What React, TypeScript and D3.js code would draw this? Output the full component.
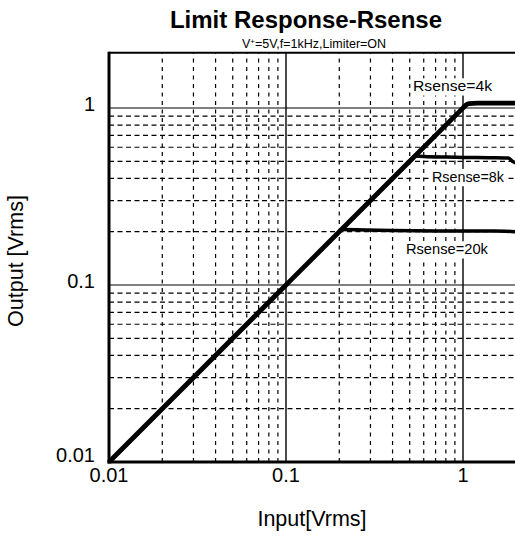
import React from 'react';
import * as d3 from 'd3';

const W = 515;
const H = 538;

// Axis domains (log-log)
const xDomain: [number, number] = [0.01, 2];
const yDomain: [number, number] = [0.01, 2.05];

const xMajor = [0.01, 0.1, 1];
const yMajor = [0.01, 0.1, 1];
const xTickLabels = ['0.01', '0.1', '1'];
const yTickLabels = ['0.01', '0.1', '1'];
const minorMultipliers = [2, 3, 4, 5, 6, 7, 8, 9];

// Series: Rsense=4k (main diagonal + limit at ~1.06)
const r4kX = [0.01, 0.1, 0.5, 0.96, 1.0, 1.04, 1.08, 1.2, 1.6, 2.0];
const r4kY = [0.01, 0.1, 0.5, 0.96, 1.0, 1.04, 1.06, 1.065, 1.065, 1.065];
// Rsense=8k
const r8kX = [0.535, 0.6, 0.8, 1.0, 1.4, 1.8, 1.9, 2.0];
const r8kY = [0.535, 0.532, 0.528, 0.526, 0.524, 0.522, 0.5, 0.488];
// Rsense=20k
const r20kX = [0.205, 0.25, 0.4, 0.7, 1.0, 1.5, 2.0];
const r20kY = [0.206, 0.205, 0.203, 0.202, 0.202, 0.202, 0.2];

const labelTexts = ['Rsense=4k', 'Rsense=8k', 'Rsense=20k'];
const labelX = [0.522, 0.668, 0.476];
const labelY = [1.247, 0.3834, 0.1497];

const FONT = '"Liberation Sans", Arial, sans-serif';

export default function App() {
  const left = 109;
  const bottom = 462;
  const decade = 177;
  const x = d3
    .scaleLog()
    .domain(xDomain)
    .range([left, left + decade * Math.log10(xDomain[1] / xDomain[0])]);
  const y = d3
    .scaleLog()
    .domain(yDomain)
    .range([bottom, bottom - decade * Math.log10(yDomain[1] / yDomain[0])]);

  const [x0, x1] = x.range();
  const [y0, y1] = y.range();

  const xMinor: number[] = [];
  xMajor.forEach((d) =>
    minorMultipliers.forEach((m) => {
      const v = d * m;
      if (v < xDomain[1] - 1e-9) xMinor.push(v);
    })
  );
  const yMinor: number[] = [];
  yMajor.forEach((d) =>
    minorMultipliers.forEach((m) => {
      const v = d * m;
      if (v < yDomain[1] - 0.06) yMinor.push(v);
    })
  );

  const line = d3
    .line<[number, number]>()
    .x((d) => x(d[0]))
    .y((d) => y(d[1]))
    .curve(d3.curveMonotoneX);

  const s4k = r4kX.map((v, i) => [v, r4kY[i]] as [number, number]);
  const s8k = r8kX.map((v, i) => [v, r8kY[i]] as [number, number]);
  const s20k = r20kX.map((v, i) => [v, r20kY[i]] as [number, number]);

  const labelFont = 15;
  const labelWidths = [79, 72, 82];

  return (
    <div style={{ position: 'fixed', left: 0, top: 0, width: W, height: H, background: '#fff' }}>
      <svg width={W} height={H} style={{ display: 'block' }}>
        <rect x={0} y={0} width={W} height={H} fill="#fff" />
        {/* minor grid */}
        {xMinor.map((v) => (
          <line
            key={'xm' + v}
            x1={x(v)}
            x2={x(v)}
            y1={y0}
            y2={y1}
            stroke="#000"
            strokeWidth={1.2}
            strokeDasharray="4,4.5"
          />
        ))}
        {yMinor.map((v) => (
          <line
            key={'ym' + v}
            x1={x0}
            x2={x1}
            y1={y(v)}
            y2={y(v)}
            stroke="#000"
            strokeWidth={1.2}
            strokeDasharray="5,3.5"
          />
        ))}
        {/* major grid */}
        {xMajor.slice(1).map((v) => (
          <line key={'xM' + v} x1={x(v)} x2={x(v)} y1={y0} y2={y1} stroke="#000" strokeWidth={1.4} />
        ))}
        {yMajor.slice(1).map((v) => (
          <line key={'yM' + v} x1={x0} x2={x1} y1={y(v)} y2={y(v)} stroke="#000" strokeWidth={1} />
        ))}

        {/* label backgrounds */}
        {labelTexts.map((t, i) => (
          <rect
            key={'bg' + t}
            x={x(labelX[i]) - 2}
            y={y(labelY[i]) - labelFont * 0.85}
            width={labelWidths[i] + 4}
            height={labelFont * 1.15}
            fill="#fff"
          />
        ))}

        {/* curves */}
        <path d={line(s20k) || ''} fill="none" stroke="#000" strokeWidth={3.5} strokeLinejoin="round" />
        <path d={line(s8k) || ''} fill="none" stroke="#000" strokeWidth={3.5} strokeLinejoin="round" />
        <path d={line(s4k) || ''} fill="none" stroke="#000" strokeWidth={4.8} strokeLinejoin="round" />

        {/* labels */}
        {labelTexts.map((t, i) => (
          <text
            key={t}
            x={x(labelX[i])}
            y={y(labelY[i])}
            fontFamily={FONT}
            fontSize={labelFont}
            textLength={labelWidths[i]}
            lengthAdjust="spacingAndGlyphs"
          >
            {t}
          </text>
        ))}

        {/* frame */}
        <line x1={x0} x2={x1 + 2} y1={y1} y2={y1} stroke="#000" strokeWidth={2} />
        <line x1={x0} x2={x0} y1={y0 + 1.5} y2={y1 - 1} stroke="#000" strokeWidth={3} />
        <line x1={x0 - 1.5} x2={x1 + 2} y1={y0} y2={y0} stroke="#000" strokeWidth={3} />

        {/* tick labels */}
        {xMajor.map((v, i) => (
          <text
            key={'xt' + v}
            x={x(v)}
            y={y0 + 20}
            textAnchor="middle"
            fontFamily={FONT}
            fontSize={20}
          >
            {xTickLabels[i]}
          </text>
        ))}
        {yMajor.map((v, i) => (
          <text
            key={'yt' + v}
            x={x0 - 14}
            y={i === 0 ? y(v) : y(v) + 3}
            textAnchor="end"
            fontFamily={FONT}
            fontSize={20}
          >
            {yTickLabels[i]}
          </text>
        ))}

        {/* titles */}
        <text x={306} y={28} textAnchor="middle" fontFamily={FONT} fontSize={24} fontWeight="bold">
          Limit Response-Rsense
        </text>
        <text x={314} y={48} textAnchor="middle" fontFamily={FONT} fontSize={12.5}>
          V<tspan dy={-4.5} fontSize={8}>+</tspan>
          <tspan dy={4.5}>=5V,f=1kHz,Limiter=ON</tspan>
        </text>
        <text x={312} y={526} textAnchor="middle" fontFamily={FONT} fontSize={21.5}>
          Input[Vrms]
        </text>
        <text
          transform={`translate(${23},${261}) rotate(-90)`}
          textAnchor="middle"
          fontFamily={FONT}
          fontSize={21.5}
        >
          Output [Vrms]
        </text>
      </svg>
    </div>
  );
}
